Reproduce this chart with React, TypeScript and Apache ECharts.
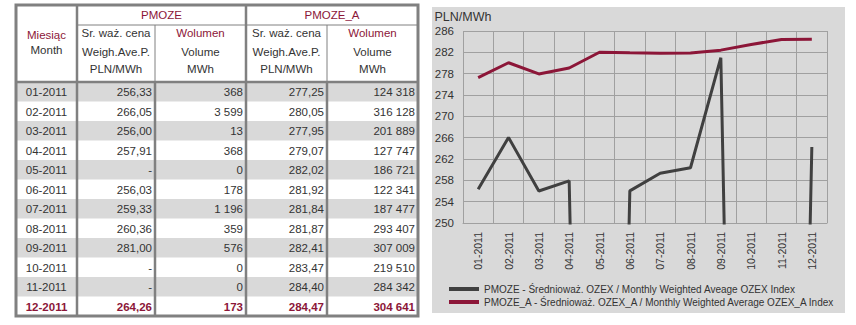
import React, { useEffect, useRef } from "react";
import * as echarts from "echarts";

const months = ["01-2011", "02-2011", "03-2011", "04-2011", "05-2011", "06-2011", "07-2011", "08-2011", "09-2011", "10-2011", "11-2011", "12-2011"];
// 0 = no trading in the month (shown as "-" in the table, line drops to 0 on the chart)
const pmozePrice = [256.33, 266.05, 256.0, 257.91, 0, 256.03, 259.33, 260.36, 281.0, 0, 0, 264.26];
const pmozeVolume = [368, 3599, 13, 368, 0, 178, 1196, 359, 576, 0, 0, 173];
const pmozeAPrice = [277.25, 280.05, 277.95, 279.07, 282.02, 281.92, 281.84, 281.87, 282.41, 283.47, 284.4, 284.47];
const pmozeAVolume = [124318, 316128, 201889, 127747, 186721, 122341, 187477, 293407, 307009, 219510, 284342, 304641];

const seriesNames = [
  "PMOZE - Średnioważ. OZEX / Monthly Weighted Aveage OZEX Index",
  "PMOZE_A - Średnioważ. OZEX_A / Monthly Weighted Average OZEX_A Index",
];
const yTicks = { min: 250, max: 286, interval: 4 };

const CRIMSON = "#8c1638";
const DARK = "#404040";
const TXT = "#333333";
const BORDER = "#808080";
const SANS = "'Liberation Sans', Arial, sans-serif";

const fmtPrice = (v: number) => (v ? v.toFixed(2).replace(".", ",") : "-");
const fmtVol = (v: number) => String(v).replace(/\B(?=(\d{3})+(?!\d))/g, " ");

function txt(text: string, x: number, y: number, align: string, fill: string, font: string) {
  return {
    type: "text",
    x,
    y,
    silent: true,
    style: { text, fill, font, align, verticalAlign: "middle", textAlign: align, textVerticalAlign: "middle" },
  };
}

function buildTable() {
  const cols = [16, 77, 155, 246, 327, 418];
  const top = 5;
  const mid = 25;
  const hdrBottom = 82;
  const rowH = 19.5;
  const bottom = hdrBottom + rowH * months.length;
  const els: any[] = [];
  els.push({ type: "rect", shape: { x: cols[0], y: top, width: cols[5] - cols[0], height: bottom - top }, style: { fill: "#ffffff" }, silent: true });
  months.forEach((m, i) => {
    const y0 = hdrBottom + i * rowH;
    if (i % 2 === 0 && i !== months.length - 1) {
      els.push({ type: "rect", shape: { x: cols[0], y: y0, width: cols[5] - cols[0], height: rowH }, style: { fill: "#d9d9d9" }, silent: true });
    }
    const last = i === months.length - 1;
    const fill = last ? CRIMSON : TXT;
    const f = (last ? "bold " : "") + "11.5px " + SANS;
    const yc = y0 + rowH / 2 + 0.5;
    const vals = [fmtPrice(pmozePrice[i]), fmtVol(pmozeVolume[i]), fmtPrice(pmozeAPrice[i]), fmtVol(pmozeAVolume[i])];
    els.push(txt(m, (cols[0] + cols[1]) / 2, yc, "center", fill, f));
    vals.forEach((v, k) => els.push(txt(v, cols[k + 2] - 3, yc, "right", fill, f)));
  });
  const hf = "11.5px " + SANS;
  els.push(txt("PMOZE", (cols[1] + cols[3]) / 2, 15, "center", CRIMSON, hf));
  els.push(txt("PMOZE_A", (cols[3] + cols[5]) / 2, 15, "center", CRIMSON, hf));
  els.push(txt("Miesiąc", (cols[0] + cols[1]) / 2, 35, "center", CRIMSON, hf));
  els.push(txt("Month", (cols[0] + cols[1]) / 2, 50, "center", TXT, hf));
  [1, 3].forEach((c) => {
    const cA = (cols[c] + cols[c + 1]) / 2;
    const cB = (cols[c + 1] + cols[c + 2]) / 2;
    els.push(txt("Sr. waż. cena", cA, 33, "center", TXT, hf));
    els.push(txt("Weigh.Ave.P.", cA, 52, "center", TXT, hf));
    els.push(txt("PLN/MWh", cA, 69, "center", TXT, hf));
    els.push(txt("Wolumen", cB, 33, "center", CRIMSON, hf));
    els.push(txt("Volume", cB, 52, "center", TXT, hf));
    els.push(txt("MWh", cB, 69, "center", TXT, hf));
  });
  const line = (x1: number, y1: number, x2: number, y2: number, w: number) => ({
    type: "line",
    silent: true,
    shape: { x1, y1, x2, y2 },
    style: { stroke: BORDER, lineWidth: w },
  });
  els.push(line(cols[1], mid, cols[5], mid, 1));
  els.push(line(cols[2], mid, cols[2], hdrBottom, 1));
  els.push(line(cols[4], mid, cols[4], hdrBottom, 1));
  els.push(line(cols[0], hdrBottom, cols[5], hdrBottom, 2.5));
  els.push(line(cols[1], top, cols[1], bottom, 2.5));
  els.push(line(cols[3], top, cols[3], bottom, 2.5));
  els.push(line(cols[2], hdrBottom, cols[2], bottom, 2.5));
  els.push(line(cols[4], hdrBottom, cols[4], bottom, 2.5));
  els.push({
    type: "rect",
    silent: true,
    shape: { x: cols[0], y: top, width: cols[5] - cols[0], height: bottom - top },
    style: { fill: "none", stroke: BORDER, lineWidth: 3 },
  });
  return els;
}

export default function App() {
  const ref = useRef<HTMLDivElement>(null);
  useEffect(() => {
    if (!ref.current) return;
    const chart = echarts.init(ref.current, undefined, { renderer: "svg" });
    chart.setOption({
      animation: false,
      backgroundColor: "#ffffff",
      graphic: [
        {
          type: "rect",
          z: -10,
          silent: true,
          shape: { x: 432, y: 7, width: 413, height: 306 },
          style: { fill: "#d9d9d9" },
        },
        ...buildTable(),
      ],
      grid: { left: 463, right: 29, top: 31, bottom: 102 },
      legend: {
        orient: "vertical",
        left: 444,
        top: 279,
        itemWidth: 30,
        itemHeight: 4,
        itemGap: 3,
        icon: "rect",
        data: seriesNames,
        textStyle: { color: TXT, fontSize: 10, fontFamily: SANS },
      },
      xAxis: {
        type: "category",
        data: months,
        boundaryGap: true,
        axisLine: { show: true, lineStyle: { color: "#a0a0a0", width: 1 } },
        axisTick: { show: false },
        axisLabel: { rotate: 90, margin: 9, color: TXT, fontSize: 10.5, fontFamily: SANS, interval: 0 },
        splitLine: { show: true, interval: 0, lineStyle: { color: "#a0a0a0", width: 1 } },
      },
      yAxis: {
        type: "value",
        min: yTicks.min,
        max: yTicks.max,
        interval: yTicks.interval,
        name: "PLN/MWh",
        nameLocation: "end",
        nameGap: 8,
        nameTextStyle: { color: TXT, fontSize: 12.5, fontFamily: SANS },
        axisLine: { show: false },
        axisTick: { show: false },
        axisLabel: { margin: 9, color: TXT, fontSize: 11.5, fontFamily: SANS },
        splitLine: { show: true, lineStyle: { color: "#a0a0a0", width: 1 } },
      },
      series: [
        {
          name: seriesNames[0],
          type: "line",
          data: pmozePrice,
          symbol: "none",
          clip: true,
          color: DARK,
          lineStyle: { color: DARK, width: 3 },
        },
        {
          name: seriesNames[1],
          type: "line",
          data: pmozeAPrice,
          symbol: "none",
          clip: true,
          color: CRIMSON,
          lineStyle: { color: CRIMSON, width: 3 },
        },
      ],
    });
    return () => chart.dispose();
  }, []);
  return <div ref={ref} style={{ position: "absolute", left: 0, top: 0, width: 856, height: 325 }} />;
}
